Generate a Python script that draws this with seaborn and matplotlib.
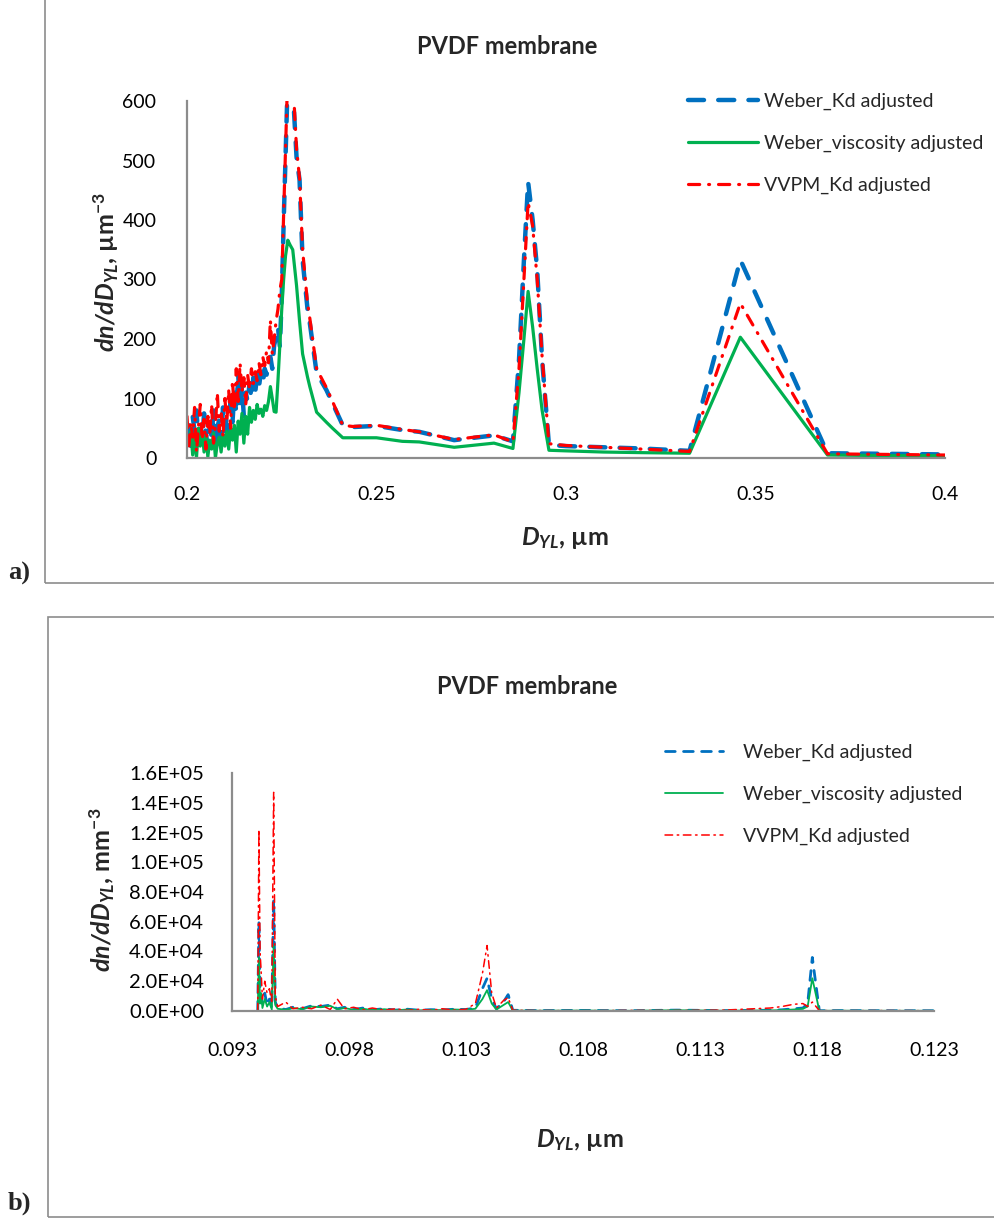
import pandas as pd
import matplotlib
matplotlib.use("Agg")
import matplotlib.pyplot as plt
import seaborn as sns
from matplotlib.patches import Rectangle
from matplotlib.ticker import FuncFormatter

# ---- panel a) data: D_YL (um) and dn/dD_YL (um^-3)
d_top = [0.2000, 0.2005, 0.2010, 0.2015, 0.2020, 0.2025, 0.2030, 0.2035, 0.2040, 0.2045,
         0.2050, 0.2055, 0.2060, 0.2065, 0.2070, 0.2075, 0.2080, 0.2085, 0.2090, 0.2095,
         0.2100, 0.2105, 0.2110, 0.2115, 0.2120, 0.2125, 0.2130, 0.2135, 0.2140, 0.2145,
         0.2150, 0.2155, 0.2160, 0.2165, 0.2170, 0.2175, 0.2180, 0.2185, 0.2190, 0.2195,
         0.2200, 0.2205, 0.2210, 0.2215, 0.2220, 0.2225, 0.2230, 0.2235, 0.2240, 0.2245,
         0.2250, 0.2255, 0.2260, 0.2266, 0.2272, 0.2279, 0.2289, 0.2297, 0.2305, 0.2318,
         0.2324, 0.2342, 0.2368, 0.2384, 0.2411, 0.2437, 0.2500, 0.2568, 0.2613, 0.2705,
         0.2810, 0.2860, 0.2876, 0.2889, 0.2900, 0.2912, 0.2924, 0.2937, 0.2955, 0.3000,
         0.3100, 0.3200, 0.3326, 0.3460, 0.3690, 0.3850, 0.4000]
weber_kd_top = [40, 55, 20, 70, 45, 80, 30, 60, 25, 75,
                40, 20, 55, 35, 80, 20, 50, 65, 30, 85,
                45, 70, 40, 95, 60, 110, 75, 140, 90, 120,
                70, 110, 95, 125, 100, 135, 110, 140, 120, 145,
                125, 150, 140, 165, 170, 150, 190, 203, 220, 187,
                270, 395, 506, 640, 700, 620, 506, 467, 333, 250,
                227, 143, 114, 92, 55, 52, 54, 47, 44, 30,
                38, 28, 165, 333, 464, 400, 316, 165, 22, 20,
                18, 16, 12, 333, 8, 7, 6]
weber_visc_top = [30, 28, 45, 5, 40, 0, 50, 20, 45, 10,
                  38, 2, 30, 15, 42, 0, 25, 35, 10, 40,
                  20, 45, 15, 50, 30, 55, 10, 62, 40, 75,
                  25, 70, 40, 85, 60, 80, 65, 90, 75, 82,
                  70, 88, 80, 95, 120, 100, 78, 77, 130, 190,
                  250, 300, 340, 366, 358, 350, 290, 230, 175, 136,
                  120, 77, 60, 50, 34, 34, 34, 28, 27, 18,
                  25, 16, 110, 200, 280, 220, 150, 80, 13, 12,
                  10, 9, 8, 203, 5, 4, 4]
vvpm_kd_top = [70, 20, 60, 35, 85, 10, 50, 90, 30, 65,
               15, 70, 40, 90, 25, 55, 110, 45, 80, 35,
               100, 60, 115, 50, 130, 80, 150, 95, 160, 110,
               135, 90, 140, 115, 150, 125, 145, 130, 160, 140,
               170, 155, 180, 160, 232, 175, 200, 230, 250, 282,
               300, 410, 520, 650, 690, 640, 520, 470, 350, 260,
               235, 150, 118, 95, 55, 53, 55, 48, 44, 31,
               39, 27, 150, 300, 430, 390, 300, 170, 24, 21,
               18, 15, 11, 260, 7, 6, 5]

# ---- panel b) data: D_YL (um) and dn/dD_YL (mm^-3)
d_bot = [0.09410, 0.09415, 0.09420, 0.09425, 0.09430, 0.09440, 0.09450, 0.09460, 0.09470, 0.09478,
         0.09485, 0.09495, 0.09530, 0.09560, 0.09600, 0.09640, 0.09680, 0.09720, 0.09750, 0.09780,
         0.09820, 0.09860, 0.09900, 0.09950, 0.10000, 0.10050, 0.10100, 0.10150, 0.10200, 0.10250,
         0.10300, 0.10340, 0.10370, 0.10390, 0.10410, 0.10430, 0.10460, 0.10480, 0.10500, 0.10600,
         0.10800, 0.11000, 0.11200, 0.11400, 0.11600, 0.11650, 0.11700, 0.11740, 0.11760, 0.11780,
         0.11810, 0.11900, 0.12100, 0.12300]
weber_kd_bot = [0, 60000, 15000, 10000, 5000, 12000, 4000, 8000, 2000, 75000,
                6000, 2000, 1000, 2500, 1500, 3500, 3000, 4000, 1500, 2500,
                1000, 2000, 800, 1500, 600, 1200, 500, 900, 700, 1200,
                1000, 2000, 15000, 22000, 8000, 1500, 6000, 11000, 500, 300,
                400, 200, 600, 300, 500, 800, 1500, 2000, 5000, 36000,
                200, 300, 200, 200]
weber_visc_bot = [0, 36000, 5000, 12000, 2000, 8000, 3000, 6000, 1000, 44000,
                  4000, 1500, 800, 2000, 1200, 3000, 2500, 3500, 1200, 2000,
                  800, 1500, 600, 1200, 500, 1000, 400, 700, 600, 1000,
                  800, 1500, 8000, 14000, 5000, 1000, 4000, 6000, 300, 200,
                  300, 150, 500, 200, 400, 600, 1000, 1500, 3000, 22000,
                  150, 200, 150, 150]
vvpm_kd_bot = [0, 122000, 40000, 25000, 8000, 20000, 12000, 15000, 5000, 147000,
               10000, 3000, 6000, 1500, 2500, 1500, 4000, 1000, 8000, 1500,
               2500, 800, 2000, 600, 1500, 400, 1200, 500, 1500, 600,
               1200, 5000, 25000, 44000, 12000, 2000, 7000, 9000, 500, 300,
               200, 400, 300, 600, 2000, 3000, 4500, 5000, 3000, 6000,
               300, 200, 300, 200]

series = ["Weber_Kd adjusted", "Weber_viscosity adjusted", "VVPM_Kd adjusted"]
colors = ["#0070C0", "#00B050", "#FF0000"]

sns.set_style("white")
plt.rcParams["font.family"] = ["Lato", "DejaVu Sans"]
plt.rcParams["mathtext.fontset"] = "custom"
plt.rcParams["mathtext.rm"] = "Lato"
plt.rcParams["mathtext.it"] = "Lato:italic"
plt.rcParams["mathtext.bf"] = "Lato:bold"
plt.rcParams["mathtext.bfit"] = "Lato:italic:bold"

W, H = 995, 1221
fig = plt.figure(figsize=(W / 100, H / 100), dpi=100)
fig.patch.set_facecolor("white")


def fx(px):
    return px / W


def fy(py):
    return 1 - py / H


# chart frames
fig.patches.append(Rectangle((fx(45), fy(583)), 1.2, fy(-3) - fy(583), transform=fig.transFigure,
                             fill=False, edgecolor="#8c8c8c", linewidth=1.2))
fig.patches.append(Rectangle((fx(48), fy(1217)), 1.2, fy(617) - fy(1217), transform=fig.transFigure,
                             fill=False, edgecolor="#8c8c8c", linewidth=1.2))

ax1 = fig.add_axes([fx(187), fy(458), fx(945) - fx(187), fy(101) - fy(458)])
ax2 = fig.add_axes([fx(232), fy(1011), fx(934) - fx(232), fy(773) - fy(1011)])

top = pd.DataFrame({"D": d_top, series[0]: weber_kd_top, series[1]: weber_visc_top, series[2]: vvpm_kd_top})
bot = pd.DataFrame({"D": d_bot, series[0]: weber_kd_bot, series[1]: weber_visc_bot, series[2]: vvpm_kd_bot})

# styles: (linewidth, dashes) per panel
style_top = [(3.2, (3.6, 3.2)), (2.3, None), (2.3, (3.5, 2.8, 0.3, 2.8))]
style_bot = [(2.0, (3.5, 3.0)), (1.3, None), (1.1, (5, 3, 1, 3))]

for ax, df, styles in [(ax1, top, style_top), (ax2, bot, style_bot)]:
    handles = []
    for name, col, (lw, dash) in zip(series, colors, styles):
        sns.lineplot(data=df, x="D", y=name, color=col, linewidth=lw, ax=ax,
                     sort=False, estimator=None)
        ln = ax.get_lines()[-1]
        if dash is not None:
            ln.set_dashes(dash)
            ln.set_dash_capstyle("round")
        ln.set_solid_capstyle("round")
        handles.append(ln)
    ax.set_xlabel("")
    ax.set_ylabel("")
    for s in ["top", "right"]:
        ax.spines[s].set_visible(False)
    for s in ["left", "bottom"]:
        ax.spines[s].set_color("#8c8c8c")
        ax.spines[s].set_linewidth(1.6)
    ax.tick_params(length=0, labelsize=14, colors="black")
    ax.set_facecolor("none")
    ax.handles_ = handles

ax1.set_xlim(0.2, 0.4)
ax1.set_ylim(0, 600)
ax1.set_xticks([0.2, 0.25, 0.3, 0.35, 0.4])
ax1.set_xticklabels(["0.2", "0.25", "0.3", "0.35", "0.4"])
ax1.set_yticks(range(0, 601, 100))
ax1.tick_params(axis="x", pad=20)
ax1.tick_params(axis="y", pad=22)

ax2.set_xlim(0.093, 0.123)
ax2.set_ylim(0, 160000)
ax2.set_xticks([0.093, 0.098, 0.103, 0.108, 0.113, 0.118, 0.123])
ax2.set_xticklabels(["0.093", "0.098", "0.103", "0.108", "0.113", "0.118", "0.123"])
ax2.set_yticks(range(0, 160001, 20000))
ax2.yaxis.set_major_formatter(FuncFormatter(lambda v, p: f"{v:.1E}"))
ax2.tick_params(axis="x", pad=22)
ax2.tick_params(axis="y", labelsize=14.5, pad=20)

leg1 = ax1.legend(ax1.handles_, series, loc="upper left", bbox_to_anchor=(fx(688), fy(93)),
                  bbox_transform=fig.transFigure, frameon=False, fontsize=14, handlelength=3.6,
                  handletextpad=0.3, labelspacing=1.27, borderpad=0, borderaxespad=0)
leg2 = ax2.legend(ax2.handles_, series, loc="upper left", bbox_to_anchor=(fx(665), fy(744)),
                  bbox_transform=fig.transFigure, frameon=False, fontsize=14, handlelength=3.0,
                  handletextpad=1.0, labelspacing=1.27, borderpad=0, borderaxespad=0)

# titles
fig.text(fx(507), fy(47), "PVDF membrane", ha="center", va="center", fontsize=17, fontweight="bold")
fig.text(fx(527), fy(686), "PVDF membrane", ha="center", va="center", fontsize=17, fontweight="bold")

# axis labels
fig.text(fx(565), fy(538), r"$\mathbfit{D}_{\mathbfit{YL}}$, µm", ha="center", va="center",
         fontsize=18, fontweight="bold")
fig.text(fx(580), fy(1140), r"$\mathbfit{D}_{\mathbfit{YL}}$, µm", ha="center", va="center",
         fontsize=18, fontweight="bold")
fig.text(fx(106), fy(272), r"$\mathbfit{dn/dD}_{\mathbfit{YL}}$, µm$^{\mathbf{-3}}$", ha="center",
         va="center", rotation=90, fontsize=18, fontweight="bold")
fig.text(fx(102), fy(890), r"$\mathbfit{dn/dD}_{\mathbfit{YL}}$, mm$^{\mathbf{-3}}$", ha="center",
         va="center", rotation=90, fontsize=18, fontweight="bold")

# panel letters
fig.text(fx(8), fy(573), "a)", ha="left", va="center", fontsize=19, fontweight="bold",
         family="Liberation Serif")
fig.text(fx(8), fy(1203), "b)", ha="left", va="center", fontsize=19, fontweight="bold",
         family="Liberation Serif")

fig.savefig("out.png", dpi=100, facecolor="white")
